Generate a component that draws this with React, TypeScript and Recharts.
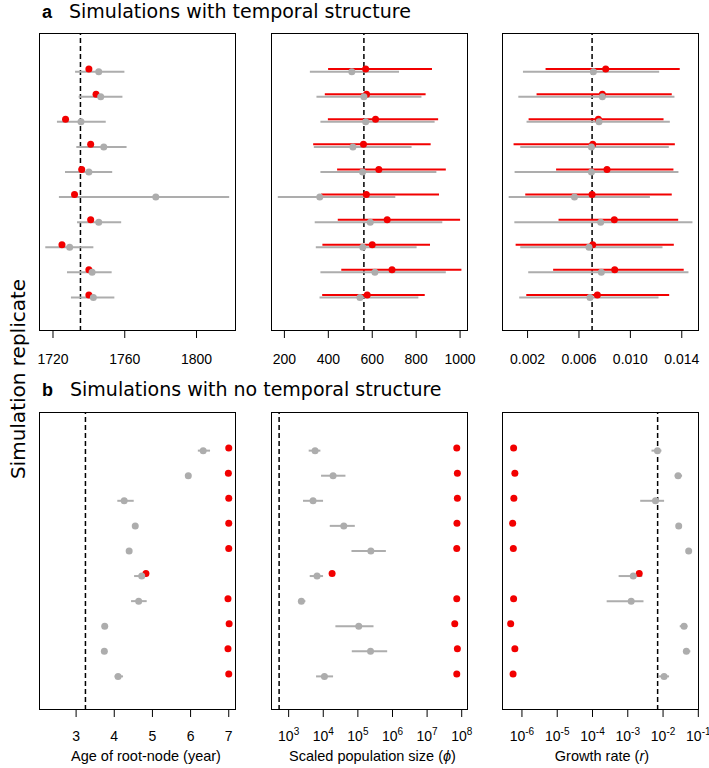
import React from 'react';
import { ScatterChart, Scatter, XAxis, YAxis, ReferenceLine } from 'recharts';

// replicate 1 is drawn at the top of every panel
const replicates = [1, 2, 3, 4, 5, 6, 7, 8, 9, 10];

// a: simulations with temporal structure
const ageTempRedLo = [1739, 1743, 1726, 1740, 1735, 1731, 1740, 1724, 1739, 1739];
const ageTempRedMid = [1740, 1744, 1727, 1741, 1736, 1732, 1741, 1725, 1740, 1740];
const ageTempRedHi = [1741, 1745, 1728, 1742, 1737, 1733, 1742, 1726, 1741, 1741];
const ageTempGreyLo = [1732.3, 1734.3, 1722.2, 1733, 1726.7, 1723.3, 1733.4, 1715.7, 1727.8, 1730];
const ageTempGreyMid = [1745.5, 1746.6, 1735.6, 1748.3, 1740, 1777.3, 1745.5, 1729.3, 1741.8, 1742.5];
const ageTempGreyHi = [1759.8, 1758.7, 1749.4, 1761, 1753, 1818.2, 1758, 1742.5, 1752.7, 1754.2];

const popTempRedLo = [399, 384, 398, 331, 440, 367, 443, 373, 459, 372];
const popTempRedMid = [570, 574, 615, 560, 630, 573, 668, 600, 690, 577];
const popTempRedHi = [872, 843, 900, 866, 935, 904, 1000, 863, 1006, 839];
const popTempGreyLo = [316, 346, 364, 334, 364, 170, 338, 343, 364, 360];
const popTempGreyMid = [507, 562, 570, 512, 556, 361, 591, 557, 612, 544];
const popTempGreyHi = [722, 824, 884, 779, 892, 705, 919, 802, 935, 810];

const rateTempRedLo = [0.0034, 0.0027, 0.00208, 0.00091, 0.00422, 0.00182, 0.00441, 0.00107, 0.00399, 0.0019];
const rateTempRedMid = [0.00808, 0.00782, 0.00751, 0.00707, 0.00818, 0.00702, 0.00875, 0.00707, 0.00878, 0.00743];
const rateTempRedHi = [0.01384, 0.01322, 0.01258, 0.01346, 0.01335, 0.01322, 0.01372, 0.01338, 0.01415, 0.01302];
const rateTempGreyLo = [0.00164, 0.00128, 0.00192, 0.00143, 0.00099, 0.00053, 0.00097, 0.00143, 0.00205, 0.00135];
const rateTempGreyMid = [0.00712, 0.00782, 0.00756, 0.00697, 0.00697, 0.00565, 0.00769, 0.00678, 0.00774, 0.00686];
const rateTempGreyHi = [0.01224, 0.01343, 0.01307, 0.01299, 0.01374, 0.01152, 0.01483, 0.0125, 0.01452, 0.01219];

// b: simulations with no temporal structure
const ageNoRedLo = [6.98, 6.97, 6.98, 6.98, 6.98, 4.78, 6.96, 6.99, 6.96, 6.98];
const ageNoRedMid = [7.0, 6.99, 7.0, 7.0, 7.0, 4.83, 6.98, 7.01, 6.98, 7.0];
const ageNoRedHi = [7.02, 7.01, 7.02, 7.02, 7.02, 4.9, 7.0, 7.03, 7.0, 7.02];
const ageNoGreyLo = [6.19, 5.91, 4.08, 4.52, 4.36, 4.52, 4.44, 3.72, 3.71, 4.01];
const ageNoGreyMid = [6.33, 5.94, 4.26, 4.55, 4.39, 4.72, 4.64, 3.75, 3.74, 4.1];
const ageNoGreyHi = [6.51, 5.97, 4.51, 4.58, 4.42, 4.86, 4.85, 3.78, 3.77, 4.23];

const popNoRedLo = [6.6e7, 6.9e7, 6.6e7, 6.7e7, 6.6e7, 1.54e4, 6.6e7, 5.8e7, 6.9e7, 6.6e7];
const popNoRedMid = [7.2e7, 7.5e7, 7.5e7, 7.3e7, 7.2e7, 1.8e4, 7.2e7, 6.3e7, 7.5e7, 7.2e7];
const popNoRedHi = [7.8e7, 8.1e7, 8.5e7, 7.9e7, 7.8e7, 2.15e4, 7.8e7, 6.8e7, 8.1e7, 7.8e7];
const popNoGreyLo = [3790, 8630, 2600, 15400, 65300, 4060, 1860, 22400, 66700, 6190];
const popNoGreyMid = [5800, 19200, 5070, 39200, 237000, 6610, 2330, 106000, 232000, 10800];
const popNoGreyHi = [8260, 43750, 9860, 81500, 644000, 9860, 3040, 283000, 703000, 19200];

const rateNoRedLo = [5.5e-7, 6.0e-7, 5.6e-7, 5.2e-7, 5.4e-7, 1.85e-3, 5.5e-7, 4.55e-7, 6.0e-7, 5.3e-7];
const rateNoRedMid = [5.8e-7, 6.3e-7, 5.9e-7, 5.45e-7, 5.7e-7, 2.11e-3, 5.8e-7, 4.8e-7, 6.3e-7, 5.6e-7];
const rateNoRedHi = [6.1e-7, 6.6e-7, 6.2e-7, 5.7e-7, 6.0e-7, 2.5e-3, 6.1e-7, 5.05e-7, 6.6e-7, 5.9e-7];
const rateNoGreyLo = [0.0047, 0.0214, 0.00225, 0.025, 0.047, 0.00055, 0.000252, 0.0297, 0.0369, 0.00774];
const rateNoGreyMid = [0.00695, 0.0267, 0.0061, 0.0278, 0.0533, 0.00143, 0.00125, 0.0394, 0.0458, 0.0107];
const rateNoGreyHi = [0.009, 0.0346, 0.0107, 0.031, 0.06, 0.00257, 0.00279, 0.0489, 0.0594, 0.0148];

// true simulation values (dashed lines)
const trueAge = 1735.3;
const trueAgeNo = 3.245;
const truePop = 562;
const truePopNo = 530;
const trueRate = 0.00702;

// tick labels
const ageTicks = [1720, 1760, 1800];
const popTicks = [200, 400, 600, 800, 1000];
const rateTicks = [0.002, 0.006, 0.01, 0.014];
const ageNoTicks = [3, 4, 5, 6, 7];
const popNoTicks = [1e3, 1e4, 1e5, 1e6, 1e7, 1e8];
const rateNoTicks = [1e-6, 1e-5, 1e-4, 1e-3, 1e-2, 1e-1];

const FONT = '"Liberation Sans", Arial, Helvetica, sans-serif';
const TITLE_FONT = '"DejaVu Sans", sans-serif';
const RED = '#f20000';
const GREY = '#adadad';

const PANEL_W = 197;
const PANEL_H = 298;
const PAD = 5;
const PAD_R = 20; // room for labels that hang past the right edge
const AXIS_H = 45;

const redRow = (r: number) => 11 - r;
const greyRow = (r: number) => 10.9 - r;

type Series = { lo: number[]; mid: number[]; hi: number[] };

function makeTick(log: boolean, baseline: number, digits: number) {
  return (props: any) => {
    const { x, payload } = props;
    const v = payload.value as number;
    if (log) {
      const e = Math.round(Math.log10(v));
      return (
        <text x={x} y={baseline} textAnchor="middle" fontFamily={FONT} fontSize={14} fill="#000">
          10<tspan dy={-6} fontSize={10}>{e}</tspan>
        </text>
      );
    }
    return (
      <text x={x} y={baseline} textAnchor="middle" fontFamily={FONT} fontSize={14} fill="#000">
        {v.toFixed(digits)}
      </text>
    );
  };
}

interface PanelProps {
  left: number;
  top: number;
  domain: [number, number];
  ticks: number[];
  log?: boolean;
  digits?: number;
  truth: number;
  red: Series;
  grey: Series;
  labelGap: number;
}

function Panel({ left, top, domain, ticks, log = false, digits = 0, truth, red, grey, labelGap }: PanelProps) {
  const redPts = replicates.map((r, i) => ({ x: red.mid[i], y: redRow(r) }));
  const greyPts = replicates.map((r, i) => ({ x: grey.mid[i], y: greyRow(r) }));
  const dot = (fill: string) => (p: any) => <circle cx={p.cx} cy={p.cy} r={3.5} fill={fill} />;

  return (
    <div style={{ position: 'absolute', left: left - PAD, top: top - PAD }}>
      <ScatterChart
        width={PANEL_W + PAD + PAD_R}
        height={PANEL_H + PAD + AXIS_H}
        margin={{ top: PAD, right: PAD_R, bottom: 0, left: PAD }}
      >
        <XAxis
          type="number"
          dataKey="x"
          domain={domain}
          scale={log ? 'log' : 'linear'}
          ticks={ticks}
          interval={0}
          allowDataOverflow
          axisLine={false}
          tickSize={7}
          tickLine={{ stroke: '#000', strokeWidth: 1 }}
          height={AXIS_H}
          tick={makeTick(log, PAD + PANEL_H + labelGap, digits)}
        />
        <YAxis type="number" dataKey="y" domain={[-0.44, 11.44]} hide />
        <ReferenceLine x={truth} stroke="#000" strokeWidth={1.5} strokeDasharray="5 3" />
        {replicates.map((r, i) => (
          <ReferenceLine
            key={'g' + r}
            segment={[{ x: grey.lo[i], y: greyRow(r) }, { x: grey.hi[i], y: greyRow(r) }]}
            stroke={GREY}
            strokeWidth={2}
          />
        ))}
        {replicates.map((r, i) => (
          <ReferenceLine
            key={'r' + r}
            segment={[{ x: red.lo[i], y: redRow(r) }, { x: red.hi[i], y: redRow(r) }]}
            stroke={RED}
            strokeWidth={2}
          />
        ))}
        <Scatter data={redPts} shape={dot(RED)} isAnimationActive={false} />
        <Scatter data={greyPts} shape={dot(GREY)} isAnimationActive={false} />
      </ScatterChart>
      <div
        style={{
          position: 'absolute',
          left: PAD,
          top: PAD,
          width: PANEL_W,
          height: PANEL_H,
          border: '1px solid #000',
          boxSizing: 'border-box',
          pointerEvents: 'none',
        }}
      />
    </div>
  );
}

const COLS = [39, 270.5, 502];
const TOP_A = 33;
const TOP_B = 411.5;

export default function App() {
  return (
    <div style={{ position: 'absolute', left: 0, top: 0, width: 709, height: 768, background: '#fff', overflow: 'hidden' }}>
      <Panel left={COLS[0]} top={TOP_A} domain={[1712.2, 1822]} ticks={ageTicks} truth={trueAge} labelGap={32.6}
        red={{ lo: ageTempRedLo, mid: ageTempRedMid, hi: ageTempRedHi }}
        grey={{ lo: ageTempGreyLo, mid: ageTempGreyMid, hi: ageTempGreyHi }} />
      <Panel left={COLS[1]} top={TOP_A} domain={[139, 1036]} ticks={popTicks} truth={truePop} labelGap={32.6}
        red={{ lo: popTempRedLo, mid: popTempRedMid, hi: popTempRedHi }}
        grey={{ lo: popTempGreyLo, mid: popTempGreyMid, hi: popTempGreyHi }} />
      <Panel left={COLS[2]} top={TOP_A} domain={[0.00001, 0.01534]} ticks={rateTicks} digits={3} truth={trueRate} labelGap={32.6}
        red={{ lo: rateTempRedLo, mid: rateTempRedMid, hi: rateTempRedHi }}
        grey={{ lo: rateTempGreyLo, mid: rateTempGreyMid, hi: rateTempGreyHi }} />

      <Panel left={COLS[0]} top={TOP_B} domain={[2.028, 7.19]} ticks={ageNoTicks} truth={trueAgeNo} labelGap={30.7}
        red={{ lo: ageNoRedLo, mid: ageNoRedMid, hi: ageNoRedHi }}
        grey={{ lo: ageNoGreyLo, mid: ageNoGreyMid, hi: ageNoGreyHi }} />
      <Panel left={COLS[1]} top={TOP_B} domain={[309, 1.52e8]} ticks={popNoTicks} log truth={truePopNo} labelGap={30.7}
        red={{ lo: popNoRedLo, mid: popNoRedMid, hi: popNoRedHi }}
        grey={{ lo: popNoGreyLo, mid: popNoGreyMid, hi: popNoGreyHi }} />
      <Panel left={COLS[2]} top={TOP_B} domain={[2.72e-7, 0.1045]} ticks={rateNoTicks} log truth={trueRate} labelGap={30.7}
        red={{ lo: rateNoRedLo, mid: rateNoRedMid, hi: rateNoRedHi }}
        grey={{ lo: rateNoGreyLo, mid: rateNoGreyMid, hi: rateNoGreyHi }} />

      <svg width={709} height={768} style={{ position: 'absolute', left: 0, top: 0, pointerEvents: 'none' }}>
        <text x={42} y={17.5} fontFamily={FONT} fontWeight="bold" fontSize={18} fill="#000">a</text>
        <text x={69} y={17.5} fontFamily={TITLE_FONT} fontSize={19} fill="#000">Simulations with temporal structure</text>
        <text x={42} y={395.5} fontFamily={FONT} fontWeight="bold" fontSize={18} fill="#000">b</text>
        <text x={70} y={395.5} fontFamily={TITLE_FONT} fontSize={19} fill="#000">Simulations with no temporal structure</text>
        <text x={25} y={379} transform="rotate(-90 25 379)" textAnchor="middle" fontFamily={TITLE_FONT} fontSize={20} fill="#000">
          Simulation replicate
        </text>
        <text x={146} y={760.5} textAnchor="middle" fontFamily={FONT} fontSize={14.5} fill="#000">Age of root-node (year)</text>
        <text x={372.5} y={760.5} textAnchor="middle" fontFamily={FONT} fontSize={14.5} fill="#000">
          Scaled population size (<tspan fontStyle="italic">ϕ</tspan>)
        </text>
        <text x={602} y={760.5} textAnchor="middle" fontFamily={FONT} fontSize={14.5} fill="#000">
          Growth rate (<tspan fontStyle="italic">r</tspan>)
        </text>
      </svg>
    </div>
  );
}
